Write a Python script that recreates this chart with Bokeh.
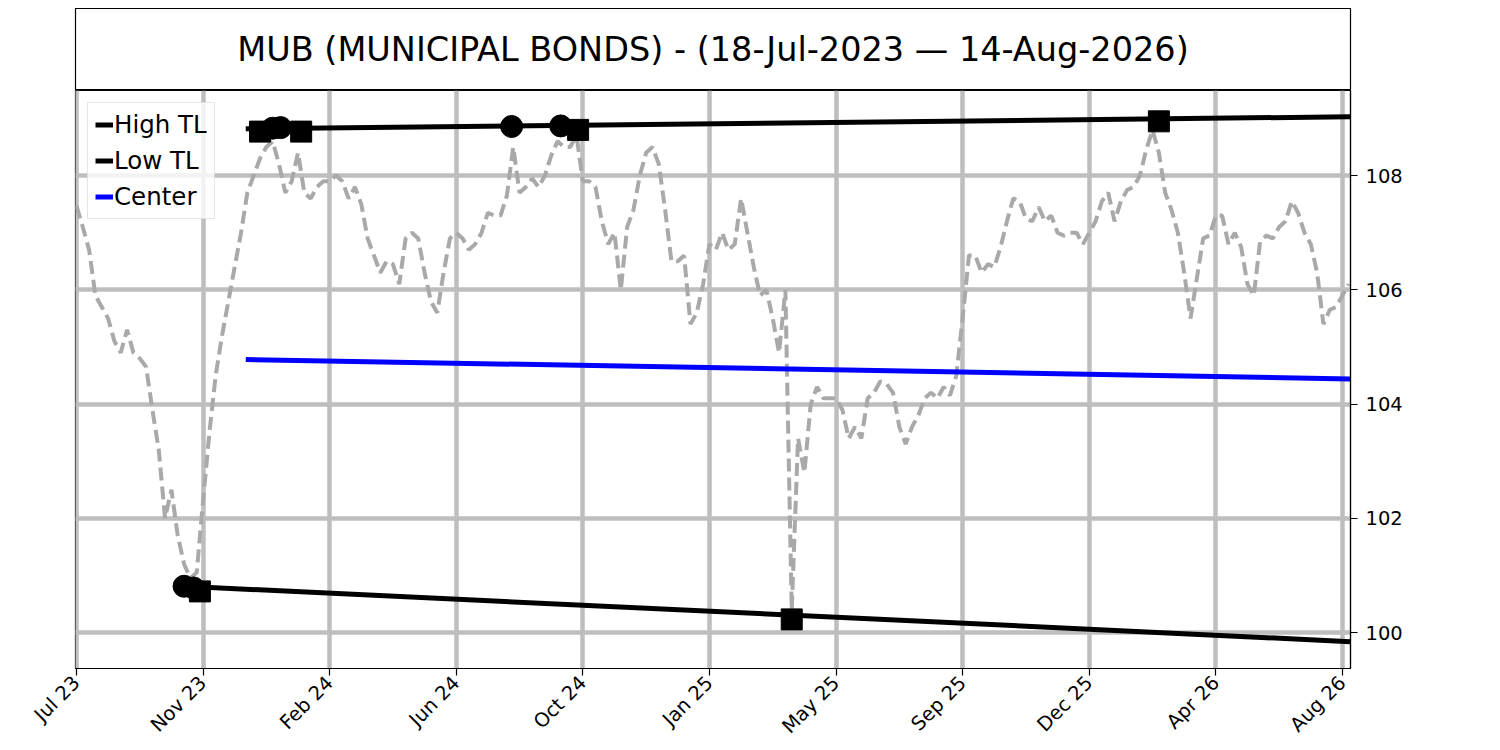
import numpy as np
from bokeh.plotting import figure
from bokeh.models import FixedTicker, Range1d
from bokeh.layouts import column
from bokeh.embed import file_html
from bokeh.resources import INLINE
from bokeh.core.properties import value

FONT = "DejaVu Sans"
TITLE = "MUB (MUNICIPAL BONDS) - (18-Jul-2023 \u2014 14-Aug-2026)"

# x axis is a trading-bar index; labels every 80 bars
tick_positions = [0, 80, 160, 240, 320, 400, 480, 560, 640, 720, 800]
tick_labels = ["Jul 23", "Nov 23", "Feb 24", "Jun 24", "Oct 24", "Jan 25",
               "May 25", "Sep 25", "Dec 25", "Apr 26", "Aug 26"]
y_ticks = [100, 102, 104, 106, 108]

# closing prices sampled every 4 bars
close_step = 4
closes = [
    107.47, 107.1, 106.7, 105.9, 105.7, 105.5, 105.1, 104.9, 105.3, 104.9,
    104.8, 104.65, 103.9, 103.2, 102.0, 102.5, 101.7, 101.2, 100.95, 101.05,
    102.3, 103.5, 104.5, 105.2, 105.8, 106.4, 107.0, 107.7, 108.0, 108.3,
    108.5, 108.6, 108.2, 107.7, 107.9, 108.4, 107.7, 107.6, 107.8, 107.9,
    107.9, 108.0, 107.9, 107.6, 107.8, 107.5, 106.9, 106.6, 106.3, 106.5,
    106.45, 106.1, 106.9, 107.0, 106.9, 106.3, 105.8, 105.6, 106.3, 106.9,
    107.0, 106.9, 106.7, 106.8, 107.0, 107.35, 107.3, 107.3, 107.65, 108.5,
    107.7, 107.8, 107.95, 107.8, 108.0, 108.35, 108.6, 108.5, 108.5, 108.7,
    107.9, 107.9, 107.8, 107.2, 106.8, 107.0, 106.0, 107.1, 107.4, 108.0,
    108.4, 108.5, 108.2, 107.4, 106.5, 106.5, 106.6, 105.4, 105.6, 106.1,
    106.8, 106.7, 107.0, 106.7, 106.8, 107.6, 107.0, 106.4, 105.9, 106.0,
    105.5, 104.9, 106.0, 100.4, 103.4, 102.8, 104.0, 104.3, 104.1, 104.1,
    104.1, 103.9, 103.4, 103.6, 103.4, 104.1, 104.2, 104.4, 104.35, 104.2,
    103.6, 103.3, 103.6, 103.8, 104.1, 104.2, 104.1, 104.3, 104.15, 104.5,
    105.5, 106.6, 106.6, 106.3, 106.45, 106.4, 106.75, 107.2, 107.6, 107.55,
    107.25, 107.2, 107.45, 107.2, 107.3, 107.0, 106.95, 107.0, 107.0, 106.8,
    107.0, 107.2, 107.55, 107.7, 107.2, 107.55, 107.75, 107.8, 108.0, 108.45,
    108.8, 108.4, 107.7, 107.4, 107.0, 106.3, 105.5, 106.2, 106.9, 106.95,
    107.3, 107.3, 106.8, 107.0, 106.75, 106.1, 105.9, 106.85, 106.95, 106.9,
    107.1, 107.2, 107.55, 107.35, 107.0, 106.8, 106.3, 105.4, 105.65, 105.7,
    105.9, 106.1,
]
close_x = [i * close_step for i in range(len(closes))]

# trend lines (start / end)
high_tl_x = [107, 805]
high_tl_y = [108.82, 109.03]
low_tl_x = [68, 805]
low_tl_y = [100.81, 99.84]
center_x = [107, 805]
center_y = [104.78, 104.44]

# pivot markers
high_circle_x = [124, 129, 275, 306]
high_circle_y = [108.83, 108.84, 108.86, 108.87]
high_square_x = [116, 142, 317, 684]
high_square_y = [108.77, 108.77, 108.80, 108.95]
low_circle_x = [68, 74]
low_circle_y = [100.81, 100.78]
low_square_x = [78, 452]
low_square_y = [100.72, 100.23]

W = 1450
LEFT = 75
RIGHT = W - LEFT - 1275

# ---- title box ----
pt = figure(width=W, height=90, x_range=Range1d(0, 1), y_range=Range1d(0, 1),
            x_axis_location=None, y_axis_location=None,
            toolbar_location=None, output_backend="svg",
            min_border_left=LEFT, min_border_right=RIGHT,
            min_border_top=8, min_border_bottom=0)
pt.xgrid.visible = False
pt.ygrid.visible = False
pt.outline_line_color = "black"
pt.outline_line_width = 1.2
pt.text(x=[0.5], y=[0.5], text=[TITLE], text_align="center",
        text_baseline="middle", text_font=value(FONT),
        text_font_size="33.5px", text_color="black")

# ---- main chart ----
p = figure(width=W, height=660, x_range=Range1d(-0.6, 805.1),
           y_range=Range1d(99.37, 109.49), y_axis_location="right",
           toolbar_location=None, output_backend="svg",
           min_border_left=LEFT, min_border_right=RIGHT,
           min_border_top=0, min_border_bottom=82)
p.outline_line_color = "black"
p.outline_line_width = 1.2

for g in (p.xgrid, p.ygrid):
    g.grid_line_color = "#bebebe"
    g.grid_line_width = 4.5

p.xaxis.ticker = FixedTicker(ticks=tick_positions)
p.xaxis.major_label_overrides = {t: l for t, l in zip(tick_positions, tick_labels)}
p.xaxis.major_label_orientation = np.pi / 4
p.yaxis.ticker = FixedTicker(ticks=y_ticks)
for ax in (p.xaxis, p.yaxis):
    ax.major_label_text_font = FONT
    ax.major_label_text_font_size = "19.5px"
    ax.major_label_text_color = "black"
    ax.axis_line_color = "black"
    ax.axis_line_width = 1.2
    ax.major_tick_line_color = "black"
    ax.major_tick_line_width = 1.2
    ax.major_tick_out = 7
    ax.major_tick_in = 0
    ax.minor_tick_line_color = None
p.xaxis.major_label_standoff = 4
p.yaxis.major_label_standoff = 8

# price
p.line(close_x, closes, line_color="#a9a9a9", line_width=4, line_dash="13 6")

# lines
p.line(high_tl_x, high_tl_y, line_color="black", line_width=5, legend_label="High TL")
p.line(low_tl_x, low_tl_y, line_color="black", line_width=5, legend_label="Low TL")
p.line(center_x, center_y, line_color="blue", line_width=5, legend_label="Center")

# markers
p.scatter(high_circle_x, high_circle_y, marker="circle", size=22, color="black")
p.scatter(high_square_x, high_square_y, marker="square", size=21, color="black")
p.scatter(low_circle_x, low_circle_y, marker="circle", size=22, color="black")
p.scatter(low_square_x, low_square_y, marker="square", size=21, color="black")

lg = p.legend[0]
lg.location = "top_left"
lg.margin = 12
lg.padding = 7
lg.spacing = 7
lg.glyph_width = 18
lg.glyph_height = 29
lg.label_height = 29
lg.label_standoff = 1
lg.label_text_font = FONT
lg.label_text_font_size = "24.5px"
lg.label_text_color = "black"
lg.border_line_color = "#cccccc"
lg.border_line_width = 1.2
lg.background_fill_alpha = 0.8

layout = column(pt, p, spacing=0)
open("out.html", "w").write(file_html(layout, INLINE))
